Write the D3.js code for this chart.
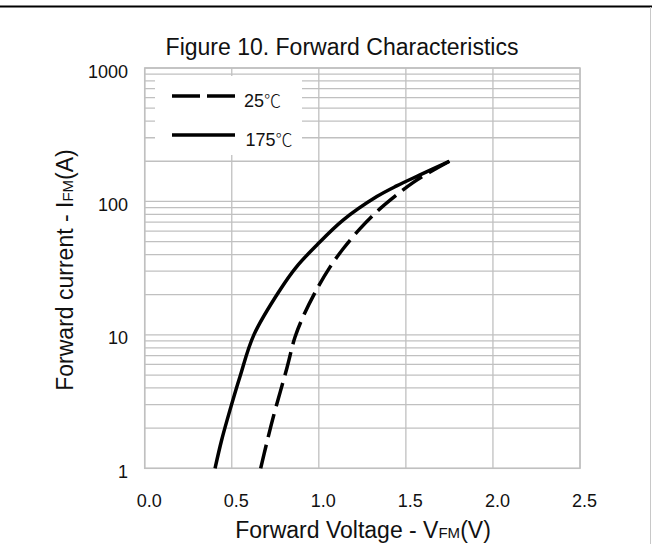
<!DOCTYPE html>
<html>
<head>
<meta charset="utf-8">
<script src="https://cdn.jsdelivr.net/npm/d3@7"></script>
<style>
  html, body { margin: 0; padding: 0; background: #fff; }
  svg { display: block; font-family: "Liberation Sans", Arial, sans-serif; }
</style>
</head>
<body>
<div id="chart"></div>
<script>
// data
const vf25 = [0.666, 0.701, 0.739, 0.816, 0.863, 0.911, 0.988, 1.064, 1.141, 1.237, 1.352, 1.447, 1.543, 1.639, 1.75];
const if25 = [1.0, 1.55, 2.44, 5.6, 9.6, 13.8, 21.9, 32.2, 44.4, 62.5, 88.3, 112, 139, 166, 200];
const vf175 = [0.404, 0.442, 0.49, 0.547, 0.627, 0.777, 0.873, 0.988, 1.141, 1.333, 1.447, 1.581, 1.75];
const if175 = [1.0, 1.63, 2.74, 4.86, 10, 21.7, 32.5, 47, 72.7, 108.7, 130.7, 158, 200];

const seriesNames = ["25", "175"];
const xTicks = [0, 0.5, 1.0, 1.5, 2.0, 2.5];
const yTicks = [1, 10, 100, 1000];

const width = 652;
const height = 544;
const plot = { left: 144.7, right: 580, top: 68, bottom: 468.3 };
const gridColor = "#c0c0c0";

const svg = d3.select("#chart").append("svg")
    .attr("width", width)
    .attr("height", height);

// page frame: black rule on top, grey edge on the right
svg.append("line")
    .attr("x1", 0).attr("x2", width)
    .attr("y1", 6.5).attr("y2", 6.5)
    .attr("stroke", "#000")
    .attr("stroke-width", 2);
svg.append("line")
    .attr("x1", 650.5).attr("x2", 650.5)
    .attr("y1", 7).attr("y2", height)
    .attr("stroke", "#c8c8c8")
    .attr("stroke-width", 1);

// scales
const x = d3.scaleLinear()
    .domain([0, 2.5])
    .range([plot.left, plot.right]);

const y = d3.scaleLog()
    .domain([1, 1000])
    .range([plot.bottom, plot.top]);

// grid
const grid = svg.append("g");
grid.selectAll(".hgrid")
    .data(y.ticks())
    .join("line")
    .attr("x1", plot.left).attr("x2", plot.right)
    .attr("y1", d => y(d)).attr("y2", d => y(d))
    .attr("stroke", gridColor)
    .attr("stroke-width", 1.3);

grid.selectAll(".vgrid")
    .data(xTicks)
    .join("line")
    .attr("x1", d => x(d)).attr("x2", d => x(d))
    .attr("y1", plot.top).attr("y2", plot.bottom)
    .attr("stroke", gridColor)
    .attr("stroke-width", 1.3);

grid.append("rect")
    .attr("x", plot.left).attr("y", plot.top)
    .attr("width", plot.right - plot.left)
    .attr("height", plot.bottom - plot.top)
    .attr("fill", "none")
    .attr("stroke", gridColor)
    .attr("stroke-width", 1.5);

// tick labels
svg.append("g")
    .selectAll("text")
    .data(xTicks)
    .join("text")
    .attr("x", d => x(d) + 4.5)
    .attr("y", 507)
    .attr("text-anchor", "middle")
    .attr("font-size", "18px")
    .attr("fill", "#111")
    .text(d => d.toFixed(1));

svg.append("g")
    .selectAll("text")
    .data(yTicks)
    .join("text")
    .attr("x", 128)
    .attr("y", d => y(d) + 9.5)
    .attr("text-anchor", "end")
    .attr("font-size", "18px")
    .attr("fill", "#111")
    .text(d => d);

// title
svg.append("text")
    .attr("x", 342)
    .attr("y", 54.7)
    .attr("text-anchor", "middle")
    .attr("font-size", "23px")
    .attr("fill", "#111")
    .text("Figure 10. Forward Characteristics");

// axis titles
const xTitle = svg.append("text")
    .attr("x", 363)
    .attr("y", 538)
    .attr("text-anchor", "middle")
    .attr("font-size", "23px")
    .attr("fill", "#111");
xTitle.append("tspan").text("Forward Voltage - V");
xTitle.append("tspan").attr("font-size", "15px").text("FM");
xTitle.append("tspan").text("(V)");

const yTitle = svg.append("text")
    .attr("transform", "translate(73,270) rotate(-90)")
    .attr("text-anchor", "middle")
    .attr("font-size", "23px")
    .attr("fill", "#111");
yTitle.append("tspan").text("Forward current - I");
yTitle.append("tspan").attr("font-size", "15px").text("FM");
yTitle.append("tspan").text("(A)");

// legend box
const legend = svg.append("g");
legend.append("rect")
    .attr("x", 155).attr("y", 76)
    .attr("width", 147).attr("height", 79)
    .attr("fill", "#fff");

const series = [
    { name: seriesNames[0], v: vf25, i: if25, dash: "24,8", legendDash: "28,7" },
    { name: seriesNames[1], v: vf175, i: if175, dash: null, legendDash: null }
];

series.forEach((s, k) => {
    const ly = k === 0 ? 96 : 135;
    legend.append("line")
        .attr("x1", 172).attr("x2", 235)
        .attr("y1", ly).attr("y2", ly)
        .attr("stroke", "#000")
        .attr("stroke-width", 3.5)
        .attr("stroke-dasharray", s.legendDash);
    const t = legend.append("text")
        .attr("x", k === 0 ? 244 : 245.5)
        .attr("y", ly + 11)
        .attr("font-size", "18px")
        .attr("fill", "#111");
    t.append("tspan").text(s.name);
    t.append("tspan")
        .attr("font-family", "'Noto Sans CJK JP', 'Noto Sans CJK SC', sans-serif")
        .attr("font-weight", 300)
        .attr("font-size", "17px")
        .text("℃");
});

// curves
const line = d3.line()
    .x(d => x(d[0]))
    .y(d => y(d[1]))
    .curve(d3.curveCatmullRom.alpha(0.5));

series.forEach(s => {
    svg.append("path")
        .datum(d3.zip(s.v, s.i))
        .attr("d", line)
        .attr("fill", "none")
        .attr("stroke", "#000")
        .attr("stroke-width", 3.5)
        .attr("stroke-dasharray", s.dash);
});
</script>
</body>
</html>
